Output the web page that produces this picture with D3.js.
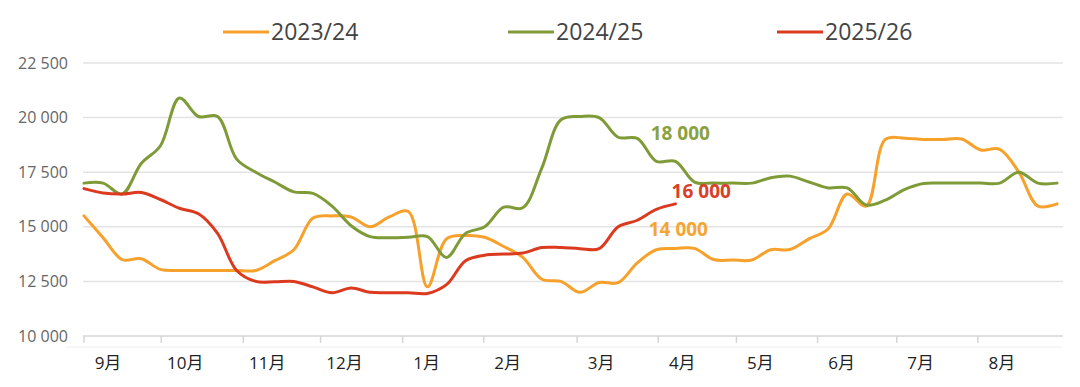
<!DOCTYPE html>
<html>
<head>
<meta charset="utf-8">
<script src="https://cdn.jsdelivr.net/npm/d3@7"></script>
<style>
	body { margin: 0; background: #fff; }
	svg { display: block; font-family: "Open Sans", "Noto Sans CJK SC", sans-serif; }
</style>
</head>
<body>
<div id="chart"></div>
<script>

// season names + colours
var seasons = ["2023/24", "2024/25", "2025/26"];
var colors = ["#f5a12b", "#7f9b38", "#db3a1e"];
var calloutColors = ["#f5a533", "#89a23f", "#d9402a"];

// month labels, and the week (0..51) each month starts on
var months = ["9月", "10月", "11月", "12月", "1月", "2月", "3月", "4月", "5月", "6月", "7月", "8月"];
var monthStart = [0, 4.05, 8.35, 12.4, 16.7, 20.95, 25.85, 30.1, 34.2, 38.45, 42.6, 46.85];

var yTicks = [10000, 12500, 15000, 17500, 20000, 22500];

// weekly values, one per week from early september
var s2324 = [15500, 14500, 13500, 13540, 13050, 13000, 13000, 13000, 13000, 13000,
	13450, 13950, 15400, 15500, 15450, 15000, 15450, 15700, 12250, 14450,
	14600, 14520, 14100, 13600, 12600, 12500, 12000, 12450, 12440, 13350,
	13950, 14010, 14010, 13500, 13480, 13480, 13950, 13960, 14450, 14900,
	16500, 15950, 19000, 19060, 19000, 19000, 19020, 18520, 18550, 17500,
	15950, 16050];
var s2425 = [17000, 17000, 16500, 17900, 18700, 20900, 20050, 20050, 18100, 17500,
	17050, 16600, 16530, 15950, 15050, 14550, 14500, 14520, 14550, 13600,
	14700, 15000, 15900, 15870, 17700, 19900, 20050, 20000, 19100, 19050,
	18000, 18000, 17050, 17000, 17000, 17000, 17250, 17320, 17050, 16780,
	16780, 16000, 16220, 16700, 16980, 17000, 17000, 17000, 17000, 17500,
	17000, 17000];
var s2526 = [16750, 16550, 16500, 16570, 16250, 15850, 15600, 14700, 13000, 12500,
	12480, 12500, 12250, 11980, 12200, 12000, 11980, 11980, 11950, 12350,
	13450, 13700, 13750, 13800, 14050, 14050, 14000, 14000, 15000, 15300,
	15800, 16050];

// value callouts: text, week, value
var calloutText = ["14 000", "18 000", "16 000"];
var calloutWeek = [29.6, 29.7, 30.8];
var calloutValue = [14000, 18000, 16000];

var W = 1080, H = 387;
var svg = d3.select("#chart").append("svg")
	.attr("width", W)
	.attr("height", H);

var x = d3.scaleLinear().domain([0, 51]).range([84, 1057]);
var y = d3.scaleLinear().domain([10000, 22500]).range([336, 63]);

var gridLeft = 83, gridRight = 1063;

// gridlines
svg.append("g").selectAll("line")
	.data(yTicks).enter()
	.append("line")
		.attr("x1", gridLeft).attr("x2", gridRight)
		.attr("y1", function(d){ return y(d) }).attr("y2", function(d){ return y(d) })
		.attr("stroke", function(d){ return d == 10000 ? "#d6d6d6" : "#e3e3e3" })
		.attr("stroke-width", 1.5);

// y labels
svg.append("g").selectAll("text")
	.data(yTicks).enter()
	.append("text")
		.attr("x", 68)
		.attr("y", function(d){ return y(d) })
		.attr("dy", "0.35em")
		.attr("text-anchor", "end")
		.attr("fill", "#666")
		.style("font-size", "16px")
		.text(function(d){ return d3.format(",")(d).replace(",", " ") });

// x axis ticks + faint bottom line
svg.append("g").selectAll("line")
	.data(monthStart).enter()
	.append("line")
		.attr("x1", function(d){ return x(d) }).attr("x2", function(d){ return x(d) })
		.attr("y1", 336).attr("y2", 343)
		.attr("stroke", "#d6d6d6")
		.attr("stroke-width", 1.5);
svg.append("line")
	.attr("x1", 65).attr("x2", gridRight)
	.attr("y1", 347).attr("y2", 347)
	.attr("stroke", "#efefef")
	.attr("stroke-width", 1);

// month labels (sit a little right of each tick)
svg.append("g").selectAll("text")
	.data(months).enter()
	.append("text")
		.attr("x", function(d, i){ return x(monthStart[i]) + 24 })
		.attr("y", 363)
		.attr("dy", "0.35em")
		.attr("text-anchor", "middle")
		.attr("fill", "#222")
		.style("font-size", "17px")
		.text(function(d){ return d });

// lines
var line = d3.line()
	.x(function(d, i){ return x(i) })
	.y(function(d){ return y(d) })
	.curve(d3.curveCatmullRom.alpha(0.5));

var allSeries = [s2324, s2425, s2526];
svg.append("g").selectAll("path")
	.data(allSeries).enter()
	.append("path")
		.attr("d", line)
		.attr("fill", "none")
		.attr("stroke", function(d, i){ return colors[i] })
		.attr("stroke-width", 3)
		.attr("stroke-linejoin", "round")
		.attr("stroke-linecap", "round");

// callouts
svg.append("g").selectAll("text")
	.data(calloutText).enter()
	.append("text")
		.attr("x", function(d, i){ return x(calloutWeek[i]) })
		.attr("y", function(d, i){ return y(calloutValue[i]) + [-13, -21, -7][i] })
		.attr("fill", function(d, i){ return calloutColors[i] })
		.style("font-size", "19px")
		.style("font-weight", "bold")
		.text(function(d){ return d });

// legend
var legendX = [223, 508, 777];
var legend = svg.append("g").selectAll("g")
	.data(seasons).enter()
	.append("g")
		.attr("transform", function(d, i){ return "translate(" + legendX[i] + ",32)" });
legend.append("line")
	.attr("x1", 0).attr("x2", 46)
	.attr("stroke", function(d, i){ return colors[i] })
	.attr("stroke-width", 3);
legend.append("text")
	.attr("x", 48)
	.attr("dy", "0.35em")
	.attr("fill", "#444")
	.style("font-size", "23px")
	.text(function(d){ return d });

</script>
</body>
</html>
